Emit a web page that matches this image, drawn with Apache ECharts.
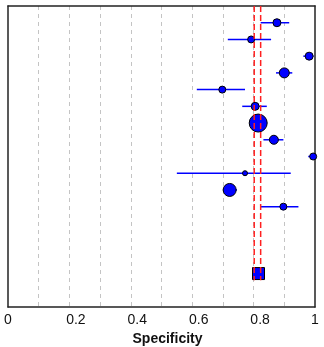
<!DOCTYPE html>
<html>
<head>
<meta charset="utf-8">
<script src="https://cdn.jsdelivr.net/npm/echarts@6/dist/echarts.min.js"></script>
<style>html,body{margin:0;padding:0;background:#fff}#c{width:324px;height:347px}</style>
</head>
<body>
<div id="c"></div>
<script>
// Study rows (top to bottom) and specificity estimates with 95% CI
const rows    = [1, 2, 3, 4, 5, 6, 7, 8, 9, 10, 11, 12];
const spec    = [0.876, 0.792, 0.981, 0.900, 0.698, 0.805, 0.815, 0.866, 0.994, 0.772, 0.722, 0.897];
const lower   = [0.823, 0.716, 0.962, 0.873, 0.615, 0.763, 0.790, 0.832, 0.978, 0.550, 0.700, 0.821];
const upper   = [0.916, 0.857, 0.995, 0.926, 0.772, 0.843, 0.840, 0.897, 1.000, 0.921, 0.746, 0.946];
const weights = [64, 49, 64, 100, 49, 64, 324, 81, 49, 25, 169, 49];
// Pooled estimate
const pooledRow = 16;
const pooled = 0.816;
const pooledCI = [0.802, 0.823];
// Axis ticks
const xTicks = [0, 0.2, 0.4, 0.6, 0.8, 1];

const chart = echarts.init(document.getElementById('c'), null, {renderer: 'canvas'});
const FONT = '"Liberation Sans", Arial, sans-serif';

const pointData = rows.map((r, i) => [spec[i], r, weights[i]]);
const barData = rows.map((r, i) => [lower[i], upper[i], r]);
const redData = pooledCI.map(v => [v, 0, pooledRow + 0.4]);

const frameLine = {show: true, onZero: false, lineStyle: {color: '#222', width: 1.5}};

chart.setOption({
  animation: false,
  grid: {left: 8, right: 9, top: 6, bottom: 40, show: false, containLabel: false, outerBoundsMode: 'none'},
  xAxis: [{
    type: 'value', min: 0, max: 1, interval: 0.1, position: 'bottom',
    axisLine: frameLine,
    axisTick: {show: false},
    splitLine: {show: true, showMinLine: false, showMaxLine: false, lineStyle: {color: '#c4c4c4', type: [4, 4], width: 1}},
    axisLabel: {
      margin: 6, color: '#111', fontSize: 14, fontFamily: FONT,
      formatter: function (v) {
        const r = Math.round(v * 10);
        if (r % 2 !== 0) return '';
        const t = xTicks.find(x => Math.abs(x - v) < 1e-6);
        if (t === undefined) return '';
        if (t === 0 || t === 1) return '{e|' + t + '}';
        return '{m|' + t + '}';
      },
      rich: {
        e: {fontSize: 14, fontFamily: FONT, color: '#111'},
        m: {fontSize: 14, fontFamily: FONT, color: '#111', padding: [0, 0, 0, 13]}
      }
    },
    name: 'Specificity', nameLocation: 'middle', nameGap: 17,
    nameTextStyle: {fontSize: 14, fontWeight: 'bold', fontFamily: FONT, color: '#111', padding: [0, 0, 0, 12]}
  }, {
    type: 'value', min: 0, max: 1, position: 'top',
    axisLine: frameLine,
    axisTick: {show: false}, axisLabel: {show: false}, splitLine: {show: false}
  }],
  yAxis: [{
    type: 'value', min: 0, max: 18, inverse: true, position: 'left',
    axisLine: frameLine,
    axisTick: {show: false}, axisLabel: {show: false}, splitLine: {show: false}
  }, {
    type: 'value', min: 0, max: 18, inverse: true, position: 'right',
    axisLine: frameLine,
    axisTick: {show: false}, axisLabel: {show: false}, splitLine: {show: false}
  }],
  series: [
    {
      type: 'custom', z: 2,
      data: barData,
      renderItem: function (params, api) {
        const a = api.coord([api.value(0), api.value(2)]);
        const b = api.coord([api.value(1), api.value(2)]);
        return {type: 'line', shape: {x1: a[0], y1: a[1], x2: b[0], y2: b[1]},
                style: {stroke: '#0000ff', lineWidth: 1.5}};
      }
    },
    {
      type: 'scatter', z: 3,
      data: pointData,
      symbol: 'circle',
      symbolSize: function (d) { return Math.sqrt(d[2]); },
      itemStyle: {color: '#0000ff', borderColor: '#000', borderWidth: 1, opacity: 1}
    },
    {
      type: 'scatter', z: 3,
      data: [[pooled, pooledRow]],
      symbol: 'rect', symbolSize: 12,
      itemStyle: {color: '#0000ff', borderColor: '#000', borderWidth: 1, opacity: 1}
    },
    {
      type: 'custom', z: 5,
      data: redData,
      renderItem: function (params, api) {
        const a = api.coord([api.value(0), api.value(1)]);
        const b = api.coord([api.value(0), api.value(2)]);
        return {type: 'line', shape: {x1: a[0], y1: a[1], x2: b[0], y2: b[1]},
                style: {stroke: '#ff2020', lineWidth: 1.5, lineDash: [6, 3]}};
      }
    }
  ]
});
</script>
</body>
</html>
